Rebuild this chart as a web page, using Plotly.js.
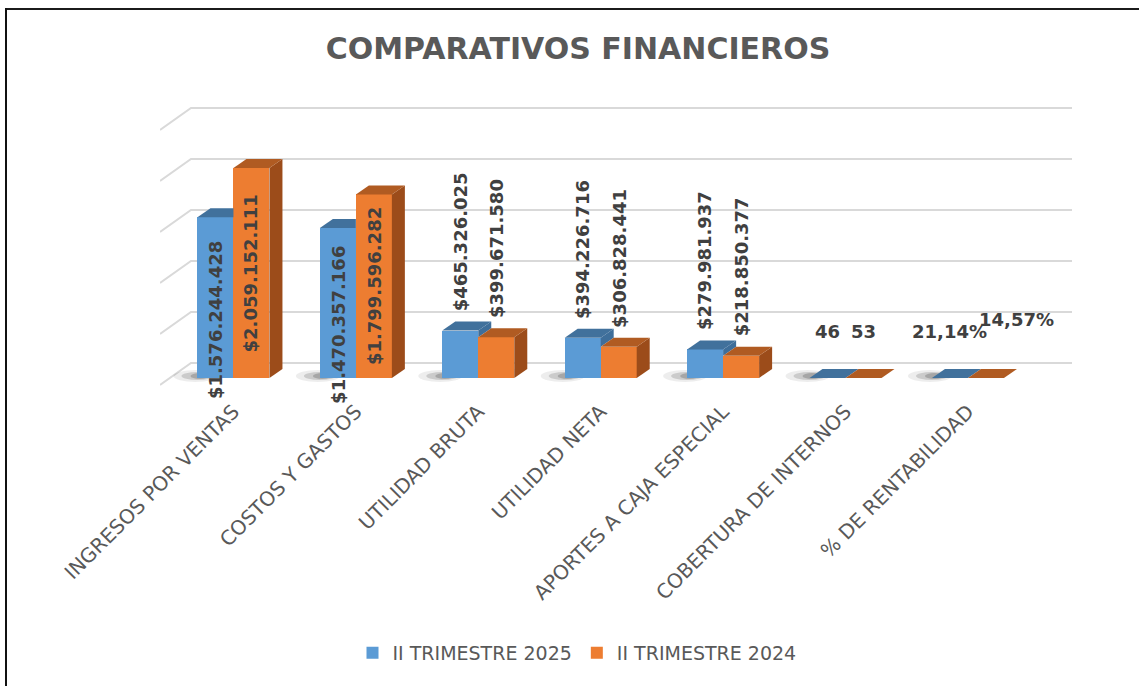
<!DOCTYPE html>
<html><head><meta charset="utf-8">
<script src="https://cdn.plot.ly/plotly-3.0.1.min.js"></script>
<style>
html,body{margin:0;padding:0;background:#fff;overflow:hidden}
#wrap{position:relative;width:1139px;height:686px}
#chart{position:absolute;left:0;top:0;width:1139px;height:686px}
#bt{position:absolute;left:5px;top:8px;width:1134px;height:2px;background:#1b1b1b}
#bl{position:absolute;left:5px;top:8px;width:2px;height:678px;background:#111}
</style>
</head><body>
<div id="wrap"><div id="chart"></div><div id="bt"></div><div id="bl"></div></div>
<script>
// ---- data ----
const categories = ["INGRESOS POR VENTAS","COSTOS Y GASTOS","UTILIDAD BRUTA","UTILIDAD NETA","APORTES A CAJA ESPECIAL","COBERTURA DE INTERNOS","% DE RENTABILIDAD"];
const seriesNames = ["II TRIMESTRE 2025","II TRIMESTRE 2024"];
const values2025 = [1576244428,1470357166,465326025,394226716,279981937,46,0.2114];
const values2024 = [2059152111,1799596282,399671580,306828441,218850377,53,0.1457];
const labels2025 = ["$1.576.244.428","$1.470.357.166","$465.326.025","$394.226.716","$279.981.937","46","21,14%"];
const labels2024 = ["$2.059.152.111","$1.799.596.282","$399.671.580","$306.828.441","$218.850.377","53","14,57%"];
const gridValues = [0,500000000,1000000000,1500000000,2000000000,2500000000];

// ---- styling / geometry (pixel-based depth for the pseudo-3D look) ----
const BLUE='#5B9BD5', BLUE_TOP='#41719C', BLUE_SIDE='#3E6E9A';
const ORANGE='#ED7D31', ORANGE_TOP='#B05B22', ORANGE_SIDE='#9C4C1A';
const PL=160, PR=1072, PT=95, PB=395;
const XMIN=-0.6, XMAX=6.85;
const PXX=(PR-PL)/(XMAX-XMIN);
const PXY=102/1e9;
const YMIN=-(PB-378)/PXY, YMAX=(378-PT)/PXY;
const W=36/PXX, DX=13/PXX, DY=9/PXY;
const WALL_FY=-7/PXY, WALL_BX=31/PXX, WALL_BY=15/PXY;

const shapes=[];
// back wall gridlines with diagonal side
gridValues.forEach(v=>{
  shapes.push({type:'path',layer:'below',xref:'x',yref:'y',
    path:`M${XMIN},${v+WALL_FY} L${XMIN+WALL_BX},${v+WALL_BY} L${XMAX},${v+WALL_BY}`,
    line:{color:'#d9d9d9',width:2}});
});
function poly(pts){return 'M'+pts.map(p=>p[0]+','+p[1]).join(' L')+' Z';}
categories.forEach((c,i)=>{
  const vb=values2025[i], vo=values2024[i];
  // floor shadow (soft smear to the left of the pair)
  shapes.push({type:'circle',layer:'below',xref:'x',yref:'y',
    x0:i-W-24/PXX,x1:i-W+20/PXX,y0:-4/PXY,y1:8/PXY,
    fillcolor:'rgba(0,0,0,0.07)',line:{width:0}});
  shapes.push({type:'circle',layer:'below',xref:'x',yref:'y',
    x0:i-W-16/PXX,x1:i-W+16/PXX,y0:-2/PXY,y1:6/PXY,
    fillcolor:'rgba(0,0,0,0.14)',line:{width:0}});
  shapes.push({type:'circle',layer:'below',xref:'x',yref:'y',
    x0:i-W-7/PXX,x1:i-W+12/PXX,y0:-1/PXY,y1:5/PXY,
    fillcolor:'rgba(0,0,0,0.18)',line:{width:0}});
  // blue side (only visible part above orange)
  if(vb>vo){
    shapes.push({type:'path',layer:'above',xref:'x',yref:'y',
      path:poly([[i,vo],[i+DX,vo+DY],[i+DX,vb+DY],[i,vb]]),fillcolor:BLUE_SIDE,line:{width:0}});
  }
  // blue top
  const bt = (vo>=vb+DY) ? [[i-W,vb],[i-W+DX,vb+DY],[i,vb+DY],[i,vb]]
                         : [[i-W,vb],[i-W+DX,vb+DY],[i+DX,vb+DY],[i,vb]];
  shapes.push({type:'path',layer:'above',xref:'x',yref:'y',path:poly(bt),fillcolor:BLUE_TOP,line:{width:0}});
  // orange side & top
  shapes.push({type:'path',layer:'above',xref:'x',yref:'y',
    path:poly([[i+W,0],[i+W+DX,DY],[i+W+DX,vo+DY],[i+W,vo]]),fillcolor:ORANGE_SIDE,line:{width:0}});
  shapes.push({type:'path',layer:'above',xref:'x',yref:'y',
    path:poly([[i,vo],[i+DX,vo+DY],[i+W+DX,vo+DY],[i+W,vo]]),fillcolor:ORANGE_TOP,line:{width:0}});
});

// data labels
const annotations=[];
const LF={family:'DejaVu Sans',size:18,color:'#404040'};
function addLabel(i,v,txt,side){
  const xc = side===0 ? i-W/2 : i+W/2;
  if(v>1e9){
    annotations.push({xref:'x',yref:'y',x:xc,y:v/2,text:'<b>'+txt+'</b>',textangle:-90,
      showarrow:false,yanchor:'middle',xanchor:'center',yshift: side===0?-22:0,font:LF});
  }else if(v>1e6){
    annotations.push({xref:'x',yref:'y',x:xc,y:v+DY,text:'<b>'+txt+'</b>',textangle:-90,
      showarrow:false,yanchor:'bottom',xanchor:'center',yshift:8,font:LF});
  }else{
    const over = (side===1 && txt.indexOf('%')>=0);
    annotations.push({xref:'x',yref:'y',x:xc,y:0,text:'<b>'+txt+'</b>',
      showarrow:false,yanchor:'bottom',xanchor:'center',yshift: over?46:34,xshift: over?31:0,font:LF});
  }
}
categories.forEach((c,i)=>{addLabel(i,values2025[i],labels2025[i],0);addLabel(i,values2024[i],labels2024[i],1);});

const traces=[
  {type:'bar',name:seriesNames[0],x:categories,y:values2025,width:W,offset:-W,marker:{color:BLUE},hoverinfo:'skip'},
  {type:'bar',name:seriesNames[1],x:categories,y:values2024,width:W,offset:0,marker:{color:ORANGE},hoverinfo:'skip'}
];

const layout={
  width:1139,height:686,paper_bgcolor:'#fff',plot_bgcolor:'rgba(0,0,0,0)',
  margin:{l:PL,r:1139-PR,t:PT,b:686-PB,pad:0},
  title:{text:'<b>COMPARATIVOS FINANCIEROS</b>',font:{family:'DejaVu Sans',size:30,color:'#595959'},
    xref:'container',x:578/1139,xanchor:'center',yref:'container',y:1-48/686,yanchor:'middle'},
  xaxis:{type:'category',range:[XMIN,XMAX],tickangle:-45,showgrid:false,zeroline:false,showline:false,
    ticks:'',tickfont:{family:'DejaVu Sans',size:20,color:'#595959'},automargin:false,fixedrange:true},
  yaxis:{range:[YMIN,YMAX],showgrid:false,zeroline:false,showline:false,showticklabels:false,ticks:'',fixedrange:true},
  showlegend:true,
  legend:{orientation:'h',xref:'container',x:577/1139,xanchor:'center',yref:'container',y:1-653/686,yanchor:'middle',
    font:{family:'DejaVu Sans',size:19,color:'#595959'},itemwidth:30,traceorder:'normal'},
  shapes:shapes,annotations:annotations,bargap:0
};
Plotly.newPlot('chart',traces,layout,{displayModeBar:false,staticPlot:true});
</script>
</body></html>
